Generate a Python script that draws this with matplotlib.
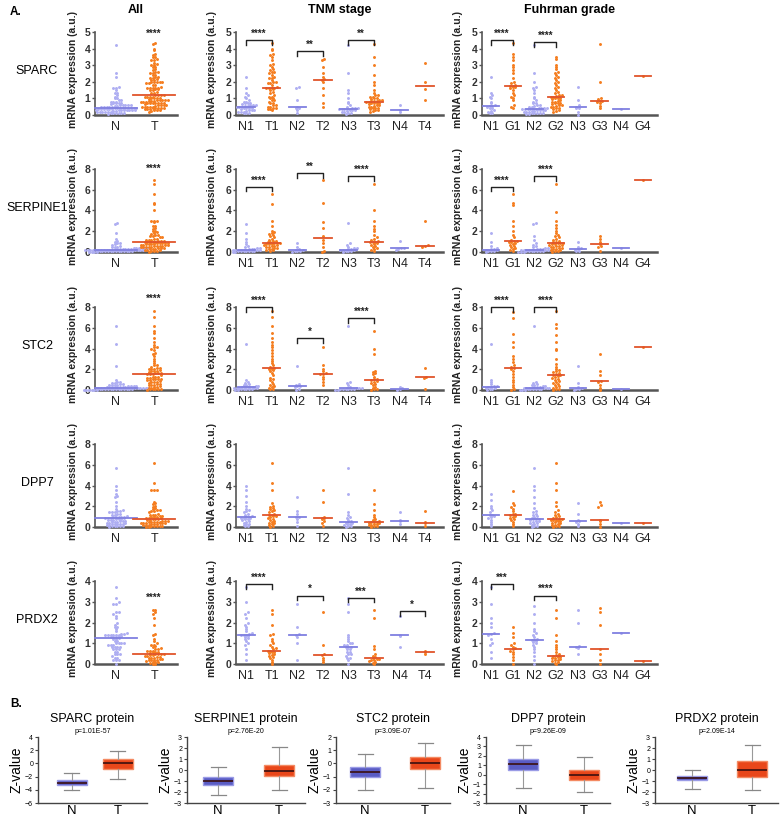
import numpy as np
import matplotlib
matplotlib.use('Agg')
import matplotlib.pyplot as plt

plt.rcParams['font.family'] = 'Liberation Sans'

W, H = 783, 821

genes = ['SPARC', 'SERPINE1', 'STC2', 'DPP7', 'PRDX2']
ymax = [5, 8, 8, 8, 4]
ystep = [1, 2, 2, 2, 1]
tnm_labels = ['N1', 'T1', 'N2', 'T2', 'N3', 'T3', 'N4', 'T4']
fuhrman_labels = ['N1', 'G1', 'N2', 'G2', 'N3', 'G3', 'N4', 'G4']

# ---- mRNA values, TNM groups (N1, T1, N2, T2, N3, T3, N4, T4) ----
sparc_tnm = [
    [0.1, 0.1, 0.15, 0.2, 0.2, 0.2, 0.25, 0.3, 0.3, 0.3, 0.35, 0.4, 0.4, 0.4, 0.45, 0.5, 0.5, 0.5,
     0.52, 0.55, 0.6, 0.6, 0.6, 0.65, 0.7, 0.7, 0.75, 0.8, 0.8, 0.9, 1.0, 1.1, 1.2, 1.3, 1.6, 2.3],
    [0.3, 0.35, 0.35, 0.4, 0.45, 0.5, 0.5, 0.6, 0.6, 0.7, 0.7, 0.8, 0.9, 0.9, 1.0, 1.0, 1.1, 1.1,
     1.2, 1.3, 1.4, 1.5, 1.55, 1.6, 1.6, 1.6, 1.6, 1.7, 1.8, 1.9, 1.9, 2.0, 2.0, 2.1, 2.2, 2.2,
     2.3, 2.4, 2.5, 2.6, 2.6, 2.7, 2.8, 2.9, 3.0, 3.1, 3.3, 3.5, 3.6, 3.7, 3.9, 4.0, 4.35],
    [0.15, 0.3, 0.45, 0.45, 0.5, 0.9, 1.6, 1.7],
    [0.5, 0.7, 1.2, 1.6, 2.0, 2.1, 2.15, 2.3, 2.5, 2.9, 3.3, 3.4],
    [0.05, 0.1, 0.15, 0.2, 0.2, 0.25, 0.3, 0.3, 0.3, 0.35, 0.35, 0.35, 0.37, 0.38, 0.4, 0.4, 0.45,
     0.5, 0.6, 0.7, 0.8, 1.0, 1.3, 1.5, 2.5, 4.2],
    [0.2, 0.25, 0.3, 0.3, 0.35, 0.4, 0.4, 0.45, 0.5, 0.5, 0.55, 0.6, 0.6, 0.65, 0.7, 0.7, 0.75,
     0.75, 0.8, 0.8, 0.82, 0.82, 0.85, 0.9, 0.9, 0.95, 1.0, 1.0, 1.1, 1.1, 1.2, 1.2, 1.3, 1.5,
     1.8, 2.0, 2.4, 3.0, 3.5, 4.25],
    [0.2, 0.32, 0.6],
    [0.9, 1.55, 2.0, 3.15],
]
serpine1_tnm = [
    [0.0, 0.02, 0.05, 0.05, 0.08, 0.1, 0.1, 0.1, 0.12, 0.15, 0.15, 0.18, 0.2, 0.2, 0.2, 0.2, 0.22,
     0.25, 0.3, 0.3, 0.35, 0.4, 0.5, 0.6, 0.8, 1.0, 1.3, 1.8, 2.7],
    [0.1, 0.15, 0.2, 0.25, 0.3, 0.35, 0.4, 0.45, 0.5, 0.55, 0.6, 0.65, 0.7, 0.75, 0.8, 0.8, 0.85,
     0.85, 0.9, 0.95, 1.0, 1.05, 1.1, 1.2, 1.3, 1.4, 1.5, 1.6, 1.7, 1.8, 1.9, 2.0, 2.5, 3.0, 4.6, 5.6],
    [0.0, 0.05, 0.1, 0.1, 0.15, 0.2, 0.3, 0.5, 0.9],
    [0.0, 0.1, 0.5, 0.9, 1.2, 1.5, 2.3, 2.9, 4.7, 6.9],
    [0.0, 0.05, 0.1, 0.1, 0.15, 0.2, 0.2, 0.22, 0.25, 0.3, 0.35, 0.4, 0.5, 0.7, 0.9, 2.8],
    [0.1, 0.2, 0.3, 0.4, 0.5, 0.6, 0.7, 0.8, 0.9, 0.95, 1.0, 1.0, 1.1, 1.2, 1.3, 1.4, 1.6, 2.0, 2.2,
     2.5, 3.0, 4.0, 6.6],
    [0.2, 0.3, 0.35, 0.4, 1.1],
    [0.5, 0.6, 0.65, 2.95],
]
stc2_tnm = [
    [0.0, 0.02, 0.05, 0.08, 0.1, 0.1, 0.12, 0.15, 0.18, 0.2, 0.2, 0.22, 0.25, 0.25, 0.28, 0.3, 0.32,
     0.35, 0.4, 0.45, 0.5, 0.6, 0.7, 0.8, 1.0, 4.4],
    [0.05, 0.1, 0.2, 0.3, 0.4, 0.5, 0.6, 0.8, 1.0, 1.1, 1.2, 1.4, 1.6, 1.8, 1.9, 2.0, 2.05, 2.1, 2.2,
     2.4, 2.6, 2.8, 3.0, 3.3, 3.6, 3.9, 4.1, 4.3, 4.6, 5.0, 5.5, 6.2, 7.0, 7.6],
    [0.0, 0.1, 0.3, 0.4, 0.42, 0.45, 0.6, 2.3],
    [0.5, 0.8, 1.1, 1.3, 1.5, 1.55, 1.6, 1.8, 2.0, 2.4, 4.1],
    [0.0, 0.02, 0.05, 0.05, 0.08, 0.1, 0.1, 0.12, 0.15, 0.15, 0.18, 0.2, 0.3, 0.5, 0.7, 0.75, 6.2],
    [0.0, 0.05, 0.1, 0.2, 0.3, 0.5, 0.6, 0.7, 0.8, 0.9, 1.0, 1.05, 1.1, 1.3, 1.5, 1.6, 1.7, 1.8,
     3.5, 4.0, 5.7],
    [0.0, 0.1, 0.15, 0.3],
    [0.1, 1.2, 1.3, 2.1],
]
dpp7_tnm = [
    [0.05, 0.1, 0.2, 0.3, 0.3, 0.4, 0.5, 0.6, 0.7, 0.75, 0.8, 0.85, 0.9, 0.9, 0.95, 1.0, 1.1, 1.2,
     1.3, 1.4, 1.5, 1.6, 1.7, 2.0, 2.4, 3.0, 3.6, 4.0],
    [0.0, 0.1, 0.2, 0.3, 0.35, 0.4, 0.5, 0.6, 0.7, 0.8, 0.9, 1.0, 1.05, 1.1, 1.15, 1.2, 1.3, 1.4,
     1.5, 1.6, 1.7, 1.8, 1.9, 2.0, 2.3, 3.6, 4.2, 6.2],
    [0.1, 0.5, 0.8, 0.95, 1.0, 1.3, 1.5, 2.9],
    [0.1, 0.4, 0.6, 0.8, 0.85, 0.9, 1.0, 2.4, 3.6],
    [0.0, 0.05, 0.1, 0.2, 0.25, 0.3, 0.35, 0.4, 0.45, 0.55, 0.7, 0.9, 1.0, 1.2, 1.4, 3.2, 5.7],
    [0.0, 0.05, 0.1, 0.15, 0.2, 0.25, 0.3, 0.35, 0.4, 0.45, 0.45, 0.5, 0.6, 0.7, 0.8, 1.0, 1.2, 1.6,
     2.2, 3.6],
    [0.3, 0.6, 0.65, 1.4],
    [0.1, 0.35, 0.45, 1.5],
]
prdx2_tnm = [
    [0.2, 0.5, 0.7, 0.9, 1.0, 1.1, 1.2, 1.25, 1.3, 1.35, 1.4, 1.4, 1.4, 1.45, 1.5, 1.6, 1.7, 1.8,
     1.9, 2.0, 2.2, 2.4, 2.5, 3.0, 3.7],
    [0.0, 0.1, 0.2, 0.3, 0.35, 0.4, 0.45, 0.5, 0.55, 0.6, 0.6, 0.65, 0.65, 0.7, 0.75, 0.8, 0.9, 1.0,
     1.1, 1.2, 1.4, 1.45, 1.9, 2.4, 2.6],
    [0.2, 1.0, 1.3, 1.4, 1.45, 1.8, 2.9],
    [0.1, 0.2, 0.3, 0.45, 0.5, 0.9, 2.5],
    [0.0, 0.2, 0.3, 0.3, 0.4, 0.5, 0.5, 0.6, 0.6, 0.7, 0.7, 0.8, 0.8, 0.8, 0.9, 0.9, 1.0, 1.0, 1.1,
     1.2, 1.3, 1.4, 2.5, 2.9, 3.2],
    [0.0, 0.05, 0.1, 0.15, 0.2, 0.2, 0.25, 0.25, 0.3, 0.35, 0.4, 0.5, 0.7, 0.85, 2.2, 2.6],
    [0.8, 1.35, 1.4, 2.3],
    [0.5, 0.6, 0.65],
]

# ---- mRNA values, Fuhrman groups (N1, G1, N2, G2, N3, G3, N4, G4) ----
sparc_fuhrman = [
    [0.1, 0.15, 0.2, 0.25, 0.3, 0.4, 0.45, 0.5, 0.52, 0.55, 0.6, 0.7, 0.8, 1.0, 1.1, 1.2, 1.3, 2.3],
    [0.4, 0.5, 0.6, 0.9, 1.0, 1.1, 1.2, 1.3, 1.5, 1.6, 1.7, 1.7, 1.72, 1.75, 1.8, 1.9, 2.0, 2.2,
     2.5, 2.7, 2.9, 3.0, 3.3, 3.5, 3.65, 4.35],
    [0.05, 0.05, 0.1, 0.1, 0.1, 0.15, 0.15, 0.2, 0.2, 0.2, 0.25, 0.25, 0.3, 0.3, 0.3, 0.3, 0.35,
     0.35, 0.35, 0.38, 0.38, 0.38, 0.4, 0.4, 0.45, 0.45, 0.5, 0.5, 0.55, 0.6, 0.6, 0.7, 0.75, 0.8,
     0.9, 1.0, 1.1, 1.3, 1.5, 1.6, 1.7, 2.0, 2.5, 4.2],
    [0.2, 0.25, 0.3, 0.35, 0.4, 0.45, 0.5, 0.5, 0.55, 0.6, 0.6, 0.65, 0.7, 0.7, 0.75, 0.8, 0.8, 0.85,
     0.9, 0.95, 1.0, 1.0, 1.05, 1.1, 1.1, 1.15, 1.2, 1.2, 1.3, 1.4, 1.5, 1.6, 1.7, 1.8, 1.9, 2.0,
     2.1, 2.2, 2.3, 2.4, 2.5, 2.6, 2.8, 2.9, 3.0, 3.4, 3.5],
    [0.0, 0.2, 0.4, 0.45, 0.48, 0.6, 0.9, 1.7],
    [0.4, 0.55, 0.7, 0.8, 0.85, 0.85, 0.95, 1.0, 2.0, 4.25],
    [0.38],
    [2.35],
]
serpine1_fuhrman = [
    [0.0, 0.05, 0.1, 0.1, 0.15, 0.2, 0.2, 0.25, 0.3, 0.4, 0.6, 1.0, 1.8],
    [0.1, 0.2, 0.3, 0.4, 0.5, 0.6, 0.7, 0.8, 0.9, 1.0, 1.0, 1.05, 1.1, 1.2, 1.4, 1.6, 2.0, 2.5,
     3.0, 4.5, 4.7, 5.6],
    [0.0, 0.0, 0.02, 0.05, 0.05, 0.08, 0.1, 0.1, 0.1, 0.12, 0.15, 0.15, 0.15, 0.18, 0.2, 0.2, 0.2,
     0.2, 0.22, 0.25, 0.3, 0.3, 0.35, 0.4, 0.5, 0.6, 0.7, 0.9, 1.2, 1.5, 2.7, 2.8],
    [0.0, 0.05, 0.1, 0.15, 0.2, 0.25, 0.3, 0.35, 0.4, 0.45, 0.5, 0.55, 0.6, 0.65, 0.7, 0.75, 0.8,
     0.85, 0.85, 0.9, 0.95, 1.0, 1.1, 1.2, 1.3, 1.4, 1.5, 1.6, 1.8, 2.0, 2.3, 2.6, 3.0, 3.9, 6.6],
    [0.05, 0.1, 0.2, 0.3, 0.35, 0.5, 1.0],
    [0.1, 0.5, 0.6, 0.8, 1.0, 1.3, 1.5],
    [0.42],
    [6.9],
]
stc2_fuhrman = [
    [0.0, 0.05, 0.1, 0.15, 0.2, 0.25, 0.25, 0.35, 0.4, 0.6, 0.8, 1.0, 4.4],
    [0.0, 0.1, 0.3, 0.5, 0.8, 1.0, 1.3, 1.5, 1.8, 2.0, 2.1, 2.2, 2.4, 2.7, 3.0, 3.3, 4.1, 4.6, 5.4,
     6.9, 7.5],
    [0.0, 0.0, 0.02, 0.05, 0.05, 0.08, 0.1, 0.1, 0.12, 0.15, 0.15, 0.18, 0.2, 0.2, 0.2, 0.22, 0.25,
     0.3, 0.3, 0.35, 0.4, 0.45, 0.5, 0.6, 0.7, 0.8, 6.2],
    [0.0, 0.05, 0.1, 0.2, 0.3, 0.4, 0.5, 0.6, 0.7, 0.8, 0.9, 1.0, 1.1, 1.2, 1.3, 1.35, 1.4, 1.45,
     1.5, 1.6, 1.7, 1.8, 1.9, 2.0, 2.2, 2.5, 3.0, 3.9, 4.0, 4.6, 5.3, 6.0, 6.4, 7.6],
    [0.0, 0.05, 0.1, 0.15, 0.3, 0.7, 2.3],
    [0.0, 0.2, 0.5, 0.8, 0.85, 1.4, 1.8, 3.5],
    [0.05],
    [4.1],
]
dpp7_fuhrman = [
    [0.1, 0.3, 0.5, 0.7, 0.9, 1.0, 1.1, 1.15, 1.2, 1.4, 1.6, 1.8, 2.0, 2.6, 3.2],
    [0.1, 0.3, 0.5, 0.7, 0.8, 0.9, 1.0, 1.1, 1.2, 1.25, 1.3, 1.5, 1.7, 1.9, 2.1, 2.3, 3.5],
    [0.0, 0.05, 0.1, 0.2, 0.3, 0.35, 0.4, 0.5, 0.55, 0.6, 0.7, 0.75, 0.75, 0.75, 0.9, 1.0, 1.1,
     1.2, 1.3, 1.4, 1.5, 1.8, 2.3, 2.9, 3.6, 4.0, 5.7],
    [0.0, 0.05, 0.1, 0.15, 0.2, 0.3, 0.35, 0.4, 0.5, 0.55, 0.6, 0.65, 0.7, 0.7, 0.75, 0.8, 0.9,
     1.0, 1.1, 1.2, 1.3, 1.4, 1.6, 2.0, 2.4, 3.6, 4.2, 6.2],
    [0.1, 0.3, 0.5, 0.55, 0.7, 1.3, 2.3],
    [0.0, 0.3, 0.6, 0.65, 1.9, 2.1, 2.4],
    [0.35],
    [0.35],
]
prdx2_fuhrman = [
    [0.3, 0.6, 0.9, 1.0, 1.2, 1.4, 1.45, 1.5, 1.8, 2.0, 2.2, 2.9, 3.7],
    [0.0, 0.2, 0.35, 0.5, 0.6, 0.65, 0.7, 0.75, 0.8, 0.9, 1.0, 1.3, 1.5, 1.8],
    [0.0, 0.2, 0.4, 0.6, 0.7, 0.8, 0.9, 1.0, 1.05, 1.1, 1.15, 1.15, 1.2, 1.3, 1.4, 1.5, 1.6, 1.7,
     2.0, 2.4, 2.8],
    [0.0, 0.05, 0.1, 0.15, 0.2, 0.2, 0.25, 0.3, 0.3, 0.35, 0.35, 0.4, 0.45, 0.5, 0.6, 0.7, 0.8,
     0.9, 1.1, 1.4, 2.2, 2.6],
    [0.5, 0.75, 0.8, 0.85, 2.0, 2.6],
    [0.0, 0.2, 0.5, 0.7, 1.9, 2.5, 2.7],
    [1.5],
    [0.15],
]

tnm_data = [sparc_tnm, serpine1_tnm, stc2_tnm, dpp7_tnm, prdx2_tnm]
fuhrman_data = [sparc_fuhrman, serpine1_fuhrman, stc2_fuhrman, dpp7_fuhrman, prdx2_fuhrman]

# significance: (group a, group b, bracket height, stars)
all_stars = [(4.6, '****'), (7.5, '****'), (8.3, '****'), None, (2.95, '****')]
tnm_sig = [
    [(0, 1, 4.5, '****'), (2, 3, 3.85, '**'), (4, 5, 4.5, '**')],
    [(0, 1, 6.3, '****'), (2, 3, 7.6, '**'), (4, 5, 7.3, '****')],
    [(0, 1, 8.0, '****'), (2, 3, 5.0, '*'), (4, 5, 6.9, '****')],
    [],
    [(0, 1, 3.85, '****'), (2, 3, 3.3, '*'), (4, 5, 3.2, '***'), (6, 7, 2.55, '*')],
]
fuhrman_sig = [
    [(0, 1, 4.5, '****'), (2, 3, 4.4, '****')],
    [(0, 1, 6.3, '****'), (2, 3, 7.3, '****')],
    [(0, 1, 8.0, '****'), (2, 3, 8.0, '****')],
    [],
    [(0, 1, 3.85, '***'), (2, 3, 3.3, '****')],
]

# ---- protein box plots: (whislo, q1, med, q3, whishi) ----
box_titles = ['SPARC protein', 'SERPINE1 protein', 'STC2 protein', 'DPP7 protein', 'PRDX2 protein']
box_pvals = ['p=1.01E-57', 'p=2.76E-20', 'p=3.09E-07', 'p=9.26E-09', 'p=2.09E-14']
box_n = [(-4.0, -3.25, -2.9, -2.55, -1.4), (-2.3, -1.35, -1.0, -0.65, 0.3),
         (-2.05, -1.05, -0.65, -0.3, 0.7), (-1.4, 0.5, 1.1, 1.7, 3.1),
         (-1.7, -0.9, -0.72, -0.55, 0.0)]
box_t = [(-2.3, -0.8, 0.0, 0.6, 1.9), (-1.8, -0.5, -0.05, 0.5, 2.1),
         (-1.9, -0.45, 0.0, 0.45, 1.55), (-1.8, -0.55, 0.0, 0.5, 1.9),
         (-1.85, -0.6, 0.0, 0.8, 2.25)]
box_ylim = [(-6, 4), (-3, 3), (-3, 2), (-3, 4), (-3, 3)]
box_ystep = [2, 1, 1, 1, 1]

N_COL = '#aeaef2'
T_COL = '#f57d1f'
N_MED = '#7f7fe0'
T_MED = '#e0542a'
AX_COL = '#555555'

fig = plt.figure(figsize=(W / 100, H / 100), dpi=100)


def px_axes(l, t, r, b):
    return fig.add_axes([l / W, 1 - b / H, (r - l) / W, (b - t) / H])


def swarm(ax, xc, vals, color, ystep_px=2.6, xstep_px=2.7):
    vals = np.sort(np.asarray(vals, float))
    disp = ax.transData.transform(np.column_stack([np.full(len(vals), xc), vals]))
    bins = np.round(disp[:, 1] / ystep_px)
    xs = disp[:, 0].copy()
    for b in np.unique(bins):
        idx = np.where(bins == b)[0]
        k = len(idx)
        xs[idx] = disp[idx, 0] + (np.arange(k) - (k - 1) / 2) * xstep_px
    pts = ax.transData.inverted().transform(np.column_stack([xs, disp[:, 1]]))
    ax.scatter(pts[:, 0], pts[:, 1], s=4.5, color=color, linewidths=0,
               clip_on=False, zorder=3)


def style_scatter(ax, top, step, labels, xlim):
    ax.set_xlim(*xlim)
    ax.set_ylim(0, top)
    ax.set_yticks(np.arange(0, top + 0.01, step))
    ax.set_xticks(range(len(labels)))
    ax.set_xticklabels(labels, fontsize=9)
    for s in ['top', 'right']:
        ax.spines[s].set_visible(False)
    ax.spines['left'].set_color(AX_COL)
    ax.spines['left'].set_linewidth(1.2)
    ax.spines['bottom'].set_color(AX_COL)
    ax.spines['bottom'].set_linewidth(1.8)
    ax.tick_params(axis='y', length=2.5, width=1, color=AX_COL, labelsize=7.5, pad=1,
                   labelcolor='#333333')
    ax.tick_params(axis='x', length=0, pad=4, labelcolor='#222222')
    plt.setp(ax.get_yticklabels(), fontweight='bold')
    ax.set_ylabel('mRNA expression (a.u.)', fontsize=7.5, fontweight='bold', color='#222222')
    ax.patch.set_alpha(0)


def bracket(ax, a, b, h, stars, top):
    d = top * 0.055
    ax.plot([a, a, b, b], [h - d, h, h, h - d], color='#222222', lw=1.0, clip_on=False, zorder=4)
    ax.text((a + b) / 2, h + top * 0.015, stars, ha='center', va='bottom', fontsize=7,
            fontweight='bold', color='#222222')


def draw_groups(ax, groups, half_w):
    for i, vals in enumerate(groups):
        col = N_COL if i % 2 == 0 else T_COL
        mcol = N_MED if i % 2 == 0 else T_MED
        swarm(ax, i, vals, col)
        m = np.median(vals)
        ax.plot([i - half_w, i + half_w], [m, m], color=mcol, lw=1.3, zorder=4, clip_on=False)


row_tops = [32, 169, 307, 444, 581]
row_h = 83

for r, gene in enumerate(genes):
    t = row_tops[r]
    b = t + row_h
    top = ymax[r]

    # All
    ax = px_axes(95, t, 177, b)
    style_scatter(ax, top, ystep[r], ['N', 'T'], (-0.55, 1.6))
    ax.yaxis.set_label_coords(-17 / 82, 0.55)
    all_n = sum(tnm_data[r][0::2], [])
    all_t = sum(tnm_data[r][1::2], [])
    draw_groups(ax, [all_n, all_t], 0.55)
    if all_stars[r] is not None:
        ax.text(1, all_stars[r][0], all_stars[r][1], ha='center', va='bottom', fontsize=7,
                fontweight='bold', color='#222222')
    if r == 0:
        ax.set_title('All', fontsize=9, fontweight='bold', pad=14)
    fig.text(37 / W, 1 - (b - 44) / H, gene, ha='center', va='center', fontsize=9)

    # TNM stage
    ax = px_axes(236, t, 443, b)
    style_scatter(ax, top, ystep[r], tnm_labels, (-0.4, 7.7))
    ax.yaxis.set_label_coords(-19 / 207, 0.55)
    draw_groups(ax, tnm_data[r], 0.34)
    for a_, b_, h_, s_ in tnm_sig[r]:
        bracket(ax, a_, b_, h_, s_, top)
    if r == 0:
        ax.set_title('TNM stage', fontsize=9, fontweight='bold', pad=14)

    # Fuhrman grade
    ax = px_axes(482, t, 657, b)
    style_scatter(ax, top, ystep[r], fuhrman_labels, (-0.42, 7.65))
    ax.yaxis.set_label_coords(-19 / 175, 0.55)
    draw_groups(ax, fuhrman_data[r], 0.38)
    for a_, b_, h_, s_ in fuhrman_sig[r]:
        bracket(ax, a_, b_, h_, s_, top)
    if r == 0:
        ax.set_title('Fuhrman grade', fontsize=9, fontweight='bold', pad=14)

fig.text(10 / W, 1 - 12 / H, 'A.', fontsize=8.5, fontweight='bold', va='center')
fig.text(10 / W, 1 - 704 / H, 'B.', fontsize=8.5, fontweight='bold', va='center')

# ---- panel B ----
box_px = [(38, 72, 118, 147), (187, 218, 279, 305), (336, 365, 425, 450),
          (486, 523, 584, 610), (655, 692, 752, 778)]
for k in range(5):
    left, xn, xt, right = box_px[k]
    sp = xt - xn
    ax = px_axes(left, 737, right, 803)
    ax.set_xlim(-(xn - left) / sp, 1 + (right - xt) / sp)
    ax.set_ylim(*box_ylim[k])
    ax.set_yticks(np.arange(box_ylim[k][0], box_ylim[k][1] + 0.01, box_ystep[k]))
    bw = 30 / sp
    stats = []
    for lab, v in zip(['N', 'T'], [box_n[k], box_t[k]]):
        stats.append(dict(label=lab, whislo=v[0], q1=v[1], med=v[2], q3=v[3], whishi=v[4]))
    bp = ax.bxp(stats, positions=[0, 1], widths=bw, capwidths=bw * 0.5, patch_artist=True,
                showfliers=False,
                medianprops=dict(color='#3b1010', lw=1.2),
                whiskerprops=dict(color='#999999', lw=0.8),
                capprops=dict(color='#888888', lw=0.9))
    for patch, fc, ec in zip(bp['boxes'], ['#5a5cc4', '#e9471a'], ['#9a9be6', '#f48a62']):
        patch.set_facecolor(fc)
        patch.set_edgecolor(ec)
        patch.set_linewidth(1.0)
    for s in ['top', 'right']:
        ax.spines[s].set_visible(False)
    for s in ['left', 'bottom']:
        ax.spines[s].set_color('#444444')
        ax.spines[s].set_linewidth(1.0)
    ax.tick_params(axis='y', length=2.5, width=0.8, labelsize=5, pad=1, color='#444444')
    ax.tick_params(axis='x', length=0, labelsize=9.5, pad=1.5)
    ax.set_ylabel('Z-value', fontsize=10, labelpad=1)
    ax.set_title(box_titles[k], fontsize=9, pad=11)
    ax.text(0.5, 1.03, box_pvals[k], transform=ax.transAxes, ha='center', va='bottom',
            fontsize=5)
    ax.patch.set_alpha(0)

fig.savefig('out.png', dpi=100)
